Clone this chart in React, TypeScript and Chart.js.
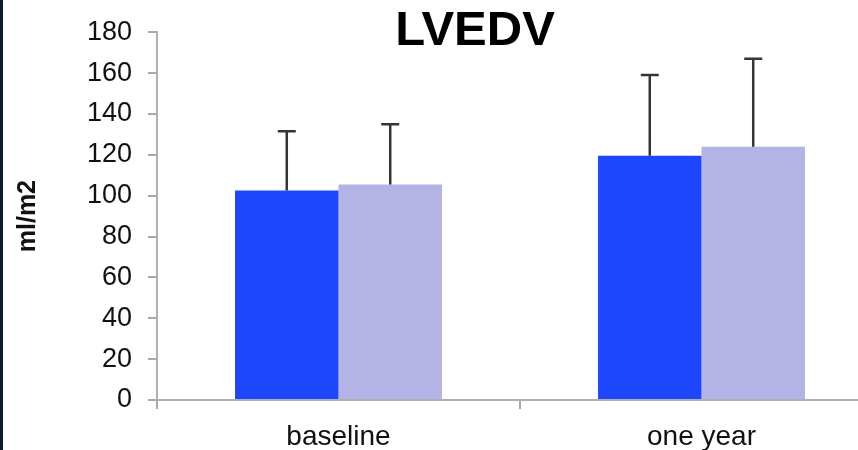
import React, { useEffect, useRef } from "react";
import { Chart, registerables } from "chart.js";

Chart.register(...registerables);

const chartTitle = "LVEDV";
const yAxisTitle = "ml/m2";
const categories = ["baseline", "one year"];
const seriesA = [102.5, 119.5];
const seriesASd = [29, 39.5];
const seriesB = [105.5, 124];
const seriesBSd = [29.5, 43];
const yMin = 0;
const yMax = 180;
const yStep = 20;

const errorBarPlugin = {
  id: "errorBars",
  afterDatasetsDraw(chart: any) {
    const ctx = chart.ctx;
    const yScale = chart.scales.y;
    chart.data.datasets.forEach((ds: any, i: number) => {
      const meta = chart.getDatasetMeta(i);
      const sds: number[] = ds.sd || [];
      meta.data.forEach((bar: any, j: number) => {
        const v = ds.data[j];
        const top = yScale.getPixelForValue(v + sds[j]);
        ctx.save();
        ctx.strokeStyle = "#353535";
        ctx.lineWidth = 2.5;
        ctx.beginPath();
        ctx.moveTo(bar.x, bar.y);
        ctx.lineTo(bar.x, top);
        ctx.moveTo(bar.x - 9, top);
        ctx.lineTo(bar.x + 9, top);
        ctx.stroke();
        ctx.restore();
      });
    });
  },
};

const titlePlugin = {
  id: "customTitle",
  afterDraw(chart: any) {
    const ctx = chart.ctx;
    ctx.save();
    ctx.font = "bold 49px 'Liberation Sans', Arial, sans-serif";
    ctx.fillStyle = "#000";
    ctx.textAlign = "center";
    ctx.textBaseline = "middle";
    ctx.fillText(chartTitle, 475, 31);
    ctx.restore();
  },
};

export default function App() {
  const ref = useRef<HTMLCanvasElement | null>(null);
  useEffect(() => {
    if (!ref.current) return;
    const font = "'Liberation Sans', Arial, sans-serif";
    const chart = new Chart(ref.current, {
      type: "bar",
      data: {
        labels: categories,
        datasets: [
          {
            label: "A",
            data: seriesA,
            sd: seriesASd,
            backgroundColor: "#1e46fc",
            barPercentage: 1,
            categoryPercentage: 0.57,
          } as any,
          {
            label: "B",
            data: seriesB,
            sd: seriesBSd,
            backgroundColor: "#b3b3e6",
            barPercentage: 1,
            categoryPercentage: 0.57,
          } as any,
        ],
      },
      options: {
        responsive: false,
        animation: false,
        devicePixelRatio: 1,
        layout: { padding: { top: 29, left: 0, right: 1, bottom: 0 } },
        plugins: {
          legend: { display: false },
          title: { display: false },
          tooltip: { enabled: false },
        },
        scales: {
          x: {
            afterFit(scale: any) {
              scale.height = 50;
            },
            grid: {
              drawOnChartArea: false,
              drawTicks: true,
              tickLength: 9,
              color: "#a8a8a8",
              lineWidth: 2,
            },
            border: { color: "#b0b0b0", width: 2 },
            ticks: {
              color: "#111",
              font: { family: font, size: 28 },
              padding: 11,
            },
          },
          y: {
            min: yMin,
            max: yMax,
            afterFit(scale: any) {
              scale.width = 157;
            },
            grid: {
              drawOnChartArea: false,
              drawTicks: true,
              tickLength: 9,
              color: "#a8a8a8",
              lineWidth: 2,
            },
            border: { color: "#b0b0b0", width: 2 },
            ticks: {
              stepSize: yStep,
              color: "#111",
              font: { family: font, size: 27 },
              padding: 16,
            },
            title: {
              display: true,
              text: yAxisTitle,
              color: "#111",
              font: { family: font, size: 25, weight: "bold" },
              padding: { top: 13, bottom: 0 },
            },
          },
        },
      },
      plugins: [errorBarPlugin, titlePlugin],
    } as any);
    return () => chart.destroy();
  }, []);

  return (
    <div
      style={{
        position: "fixed",
        left: 0,
        top: 0,
        width: 858,
        height: 450,
        overflow: "hidden",
        background: "#fff",
      }}
    >
      <canvas
        ref={ref}
        width={884}
        height={450}
        style={{ display: "block", width: 884, height: 450 }}
      />
      <div
        style={{
          position: "absolute",
          left: 0,
          top: 0,
          width: 3,
          height: 450,
          background: "#0b1a3c",
        }}
      />
    </div>
  );
}
